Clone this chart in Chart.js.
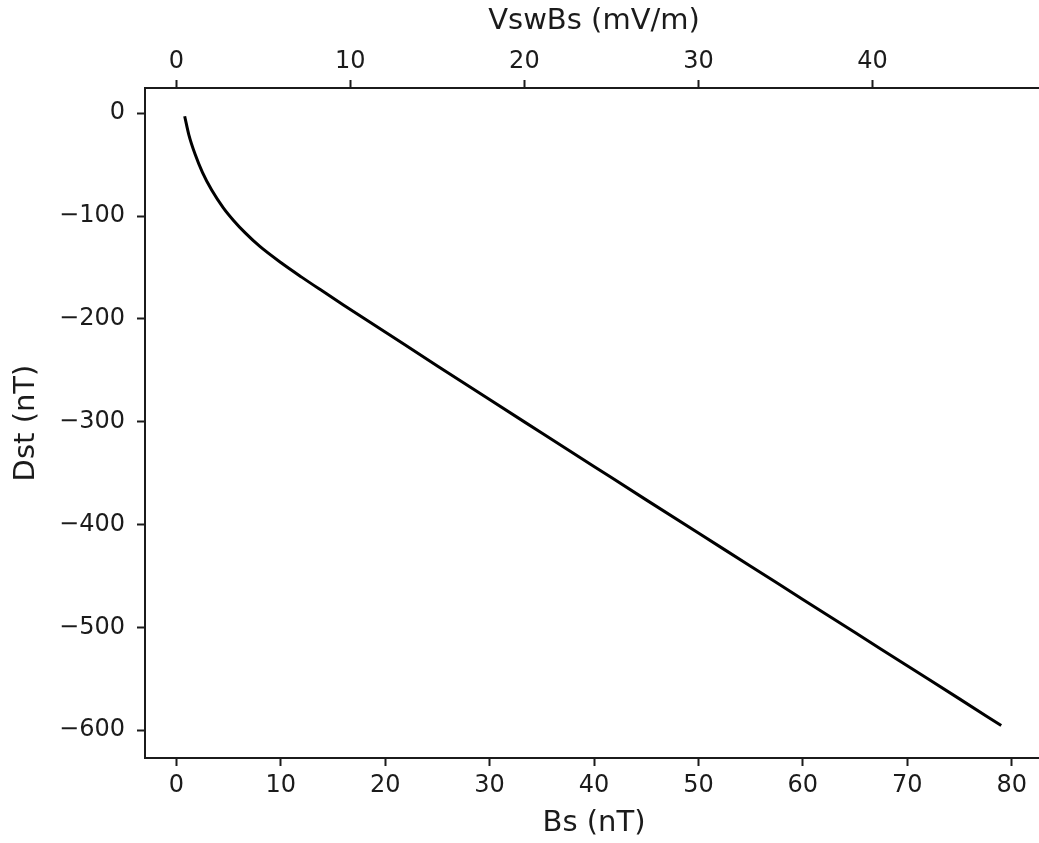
<!DOCTYPE html>
<html>
<head>
<meta charset="utf-8">
<script src="https://cdn.jsdelivr.net/npm/chart.js@4/dist/chart.umd.min.js"></script>
<style>
  html, body { margin: 0; padding: 0; background: #fff; overflow: hidden; }
  #wrap { width: 1050px; height: 843px; }
</style>
</head>
<body>
<div id="wrap"><canvas id="dstChart" width="1050" height="843"></canvas></div>
<script>
// Bs (nT) along the bottom axis, Dst (nT)
const bsValues  = [0.8, 1.2, 1.8, 2.5, 3.4, 4.5, 5.5, 6.6, 8, 10, 12, 14, 16, 18, 20, 25, 30, 35, 40, 45, 50, 55, 60, 65, 70, 75, 79];
const dstValues = [-3, -21, -40, -57.5, -75, -92, -104.5, -116.4, -129.6, -145.2, -159.4, -173, -186.4, -199.6, -212.8, -245.8, -278.5, -311, -343.5, -376, -408.3, -440.5, -472.8, -505, -537.3, -569.5, -595.5];

const bsTicks   = [0, 10, 20, 30, 40, 50, 60, 70, 80];
const vswTicks  = [0, 10, 20, 30, 40];
const dstTicks  = [0, -100, -200, -300, -400, -500, -600];

const BS_RANGE  = [-3, 83];
const VSW_FACTOR = 0.6;   // VswBs = Bs * 0.6 on the top axis
const DST_RANGE = [-627, 24.5];

const FONT = "'DejaVu Sans', sans-serif";
const INK = '#1b1b1b';

const points = bsValues.map((b, i) => ({ x: b, y: dstValues[i] }));

function fixedTicks(list) {
  return scale => { scale.ticks = list.map(v => ({ value: v })); };
}

new Chart(document.getElementById('dstChart').getContext('2d'), {
  type: 'line',
  data: {
    datasets: [{
      data: points,
      borderColor: '#000',
      borderWidth: 3,
      pointRadius: 0,
      cubicInterpolationMode: 'monotone',
      fill: false
    }]
  },
  options: {
    responsive: false,
    animation: false,
    layout: { padding: { left: 0, right: 7, top: 0, bottom: 0 } },
    plugins: { legend: { display: false }, tooltip: { enabled: false } },
    scales: {
      x: {
        type: 'linear',
        position: 'bottom',
        min: BS_RANGE[0],
        max: BS_RANGE[1],
        afterBuildTicks: fixedTicks(bsTicks),
        afterFit: s => { s.height = 85; },
        grid: { drawOnChartArea: false, tickLength: 8, tickWidth: 2, tickColor: INK },
        border: { display: true, color: INK, width: 2 },
        ticks: { color: INK, font: { family: FONT, size: 24 }, padding: 5, maxRotation: 0 },
        title: { display: true, text: 'Bs (nT)', color: INK, font: { family: FONT, size: 29 }, padding: { top: 0, bottom: 2 } }
      },
      x2: {
        type: 'linear',
        position: 'top',
        min: BS_RANGE[0] * VSW_FACTOR,
        max: BS_RANGE[1] * VSW_FACTOR,
        afterBuildTicks: fixedTicks(vswTicks),
        afterFit: s => { s.height = 88; },
        grid: { drawOnChartArea: false, tickLength: 8, tickWidth: 2, tickColor: INK },
        border: { display: true, color: INK, width: 2 },
        ticks: { color: INK, font: { family: FONT, size: 24 }, padding: 4, maxRotation: 0 },
        title: { display: true, text: 'VswBs (mV/m)', color: INK, font: { family: FONT, size: 29 }, padding: { top: 4, bottom: 0 } }
      },
      y: {
        type: 'linear',
        position: 'left',
        min: DST_RANGE[0],
        max: DST_RANGE[1],
        afterBuildTicks: fixedTicks(dstTicks),
        afterFit: s => { s.width = 145; },
        grid: { drawOnChartArea: false, tickLength: 8, tickWidth: 2, tickColor: INK },
        border: { display: true, color: INK, width: 2 },
        ticks: {
          color: INK, font: { family: FONT, size: 24 }, padding: 12,
          callback: v => String(v).replace('-', '\u2212')
        },
        title: { display: true, text: 'Dst (nT)', color: INK, font: { family: FONT, size: 29 }, padding: { top: 9, bottom: 0 } }
      }
    }
  }
});
</script>
</body>
</html>
